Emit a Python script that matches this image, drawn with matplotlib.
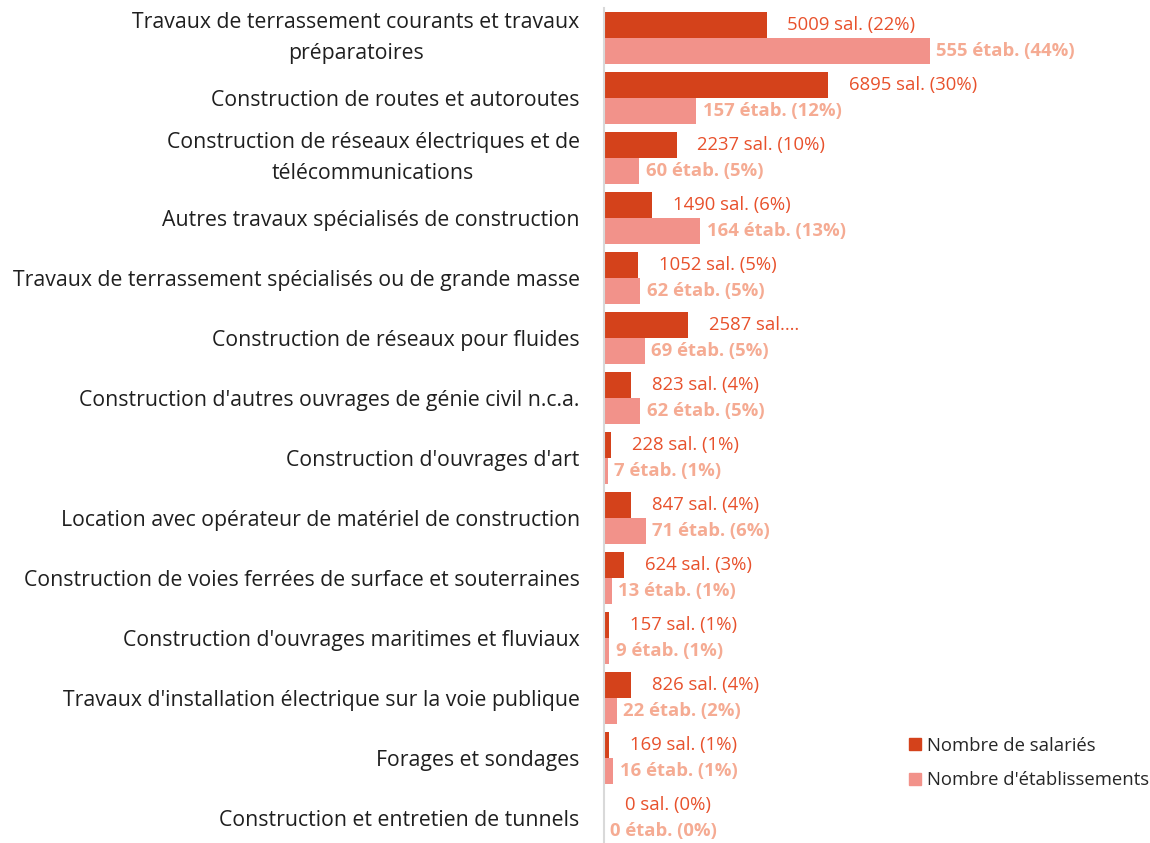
import matplotlib
matplotlib.use('Agg')
import matplotlib.pyplot as plt
from matplotlib.patches import Patch

plt.rcParams['font.family'] = ['Open Sans', 'DejaVu Sans']

categories = [
    "Travaux de terrassement courants et travaux\npréparatoires",
    "Construction de routes et autoroutes",
    "Construction de réseaux électriques et de\ntélécommunications",
    "Autres travaux spécialisés de construction",
    "Travaux de terrassement spécialisés ou de grande masse",
    "Construction de réseaux pour fluides",
    "Construction d'autres ouvrages de génie civil n.c.a.",
    "Construction d'ouvrages d'art",
    "Location avec opérateur de matériel de construction",
    "Construction de voies ferrées de surface et souterraines",
    "Construction d'ouvrages maritimes et fluviaux",
    "Travaux d'installation électrique sur la voie publique",
    "Forages et sondages",
    "Construction et entretien de tunnels",
]
salaries = [5009, 6895, 2237, 1490, 1052, 2587, 823, 228, 847, 624, 157, 826, 169, 0]
etabs = [555, 157, 60, 164, 62, 69, 62, 7, 71, 13, 9, 22, 16, 0]
sal_labels = ["5009 sal. (22%)", "6895 sal. (30%)", "2237 sal. (10%)", "1490 sal. (6%)",
              "1052 sal. (5%)", "2587 sal.…", "823 sal. (4%)", "228 sal. (1%)",
              "847 sal. (4%)", "624 sal. (3%)", "157 sal. (1%)", "826 sal. (4%)",
              "169 sal. (1%)", "0 sal. (0%)"]
etab_labels = ["555 étab. (44%)", "157 étab. (12%)", "60 étab. (5%)", "164 étab. (13%)",
               "62 étab. (5%)", "69 étab. (5%)", "62 étab. (5%)", "7 étab. (1%)",
               "71 étab. (6%)", "13 étab. (1%)", "9 étab. (1%)", "22 étab. (2%)",
               "16 étab. (1%)", "0 étab. (0%)"]

SAL = "#D4421B"
ETAB = "#F2928A"
SAL_TXT = "#E8512C"
ETAB_TXT = "#F5AB93"

# bars are drawn as share of each series' total
sal_share = [v / sum(salaries) * 100 for v in salaries]
etab_share = [v / sum(etabs) * 100 for v in etabs]

fig = plt.figure(figsize=(11.5, 8.43), dpi=100)
ax = fig.add_axes([604 / 1150, 0, 484 / 1150, 835 / 843])

ypos = list(range(len(categories)))
h = 0.433
ax.barh([y - h / 2 for y in ypos], sal_share, height=h, color=SAL)
ax.barh([y + h / 2 for y in ypos], etab_share, height=h, color=ETAB)

for y, s, e, ls, le in zip(ypos, sal_share, etab_share, sal_labels, etab_labels):
    ax.annotate(ls, (s, y - h / 2), xytext=(15, 0), textcoords='offset points',
                va='center', ha='left', fontsize=13.3, color=SAL_TXT)
    ax.annotate(le, (e, y + h / 2), xytext=(4.5, 0), textcoords='offset points',
                va='center', ha='left', fontsize=13.3, color=ETAB_TXT, fontweight='bold')

ax.set_xlim(0, 65)
ax.set_ylim(-0.5 + 835 / 60, -0.5)
ax.set_yticks(ypos)
ax.set_yticklabels(categories, fontsize=15.3, color="#1F1F1F", linespacing=1.6,
                   multialignment='center')
for lbl in ax.get_yticklabels():
    if "\n" in lbl.get_text():
        lbl.set_va('center')
ax.tick_params(axis='y', length=0, pad=17.5)
ax.set_xticks([])
for sp in ['top', 'right', 'bottom']:
    ax.spines[sp].set_visible(False)
ax.spines['left'].set_color("#D9D9D9")
ax.spines['left'].set_linewidth(1.5)

handles = [Patch(color=SAL, label="Nombre de salariés"),
           Patch(color=ETAB, label="Nombre d'établissements")]
fig.legend(handles=handles, loc='upper left', bbox_to_anchor=(892 / 1150, 1 - 720 / 843),
           frameon=False, fontsize=13.3, handlelength=0.65, handleheight=0.65,
           handletextpad=0.35, labelspacing=0.9, labelcolor="#262626")

plt.savefig("out.png", dpi=100)
